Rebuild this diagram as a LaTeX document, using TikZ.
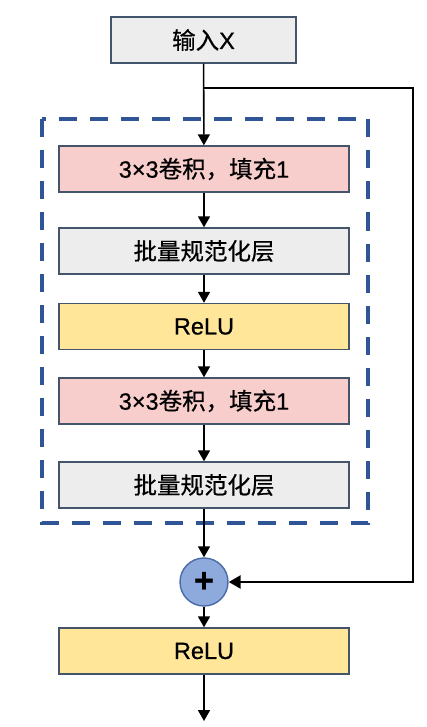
\documentclass[tikz,border=0pt]{standalone}
\usepackage{fontspec}
\setmainfont{Noto Sans CJK SC}[FakeBold=0.6]
\newfontfamily\lat{Liberation Sans}[FakeBold=0.6]
\usetikzlibrary{arrows.meta}
\definecolor{edgec}{HTML}{44546A}
\definecolor{grayf}{HTML}{EDEDED}
\definecolor{pinkf}{HTML}{F8CECC}
\definecolor{yellowf}{HTML}{FFE699}
\definecolor{bluef}{HTML}{8EA9DB}
\definecolor{bluee}{HTML}{4A6BA8}
\definecolor{dashc}{HTML}{2F5597}
\tikzset{
  box/.style={draw=edgec, line width=1.4pt, minimum width=290pt, minimum height=46pt, inner sep=0pt, font=\fontsize{23.5pt}{26pt}\selectfont},
  graybox/.style={box, fill=grayf},
  pinkbox/.style={box, fill=pinkf},
  yellowbox/.style={box, fill=yellowf},
  arr/.style={draw=black, line width=1.6pt, -{Triangle[length=11pt,width=12pt]}},
  skipline/.style={draw=black, line width=2.6pt, -{Triangle[length=12pt,width=13pt]}},
}
\begin{document}
\begin{tikzpicture}[x=1pt,y=-1pt]
\useasboundingbox (0,0) rectangle (427,727);
\fill[white] (0,0) rectangle (427,727);
% dashed frame
\draw[dashc, line width=4pt, dash pattern=on 18pt off 13pt] (41.5,119) rectangle (368,523);
% nodes
\node[graybox, minimum width=185pt] (in) at (203.5,40) {输入{\lat X}};
\node[pinkbox] (c1) at (204,169) {{\lat 3×3}卷积，填充{\lat 1}};
\node[graybox] (b1) at (204,251) {批量规范化层};
\node[yellowbox] (r1) at (204,326.5) {\lat ReLU};
\node[pinkbox] (c2) at (204,401) {{\lat 3×3}卷积，填充{\lat 1}};
\node[graybox] (b2) at (204,485) {批量规范化层};
\node[circle, draw=bluee, fill=bluef, line width=1.4pt, minimum size=48pt, inner sep=0pt, font=\fontsize{34pt}{34pt}\selectfont\lat\bfseries] (plus) at (204,582) {+};
\node[yellowbox] (r2) at (204,651) {\lat ReLU};
\coordinate (br) at (204,88);
\coordinate (rt) at (413,88);
\coordinate (out) at (204,721);
% connectors
\draw[arr] (in) -- (c1);
\draw[arr] (c1) -- (b1);
\draw[arr] (b1) -- (r1);
\draw[arr] (r1) -- (c2);
\draw[arr] (c2) -- (b2);
\draw[arr] (b2) -- (plus);
\draw[arr] (plus) -- (r2);
\draw[arr] (r2) -- (out);
\draw[skipline] (br) -- (rt) |- (plus.east);
\end{tikzpicture}
\end{document}
